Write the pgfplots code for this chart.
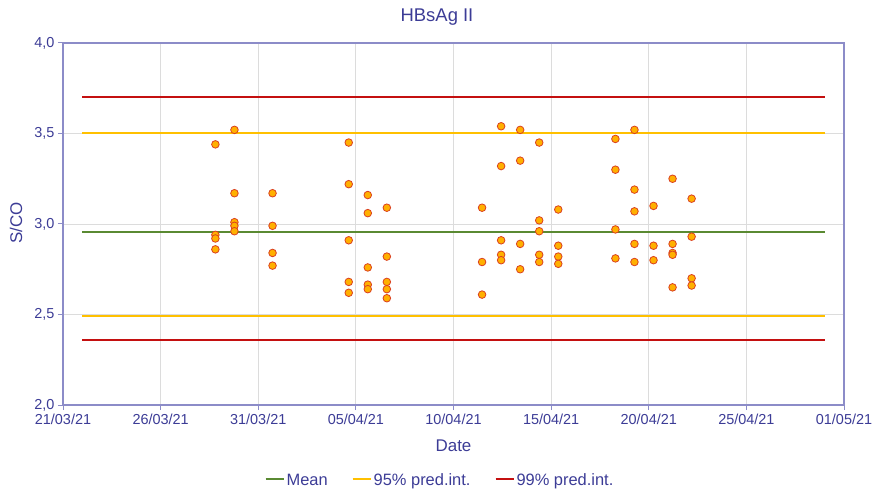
\documentclass[border=0pt]{standalone}
\usepackage{fontspec}
\setmainfont{Liberation Sans}
\usepackage{pgfplots}
\usepackage{pgfplotstable}
\pgfplotsset{compat=1.18}
\definecolor{txt}{HTML}{3C3C96}
\definecolor{axl}{HTML}{8C8CC8}
\definecolor{gridc}{HTML}{DCDCDC}
\definecolor{meanc}{HTML}{5A8A32}
\definecolor{yelc}{HTML}{FFC000}
\definecolor{redc}{HTML}{C41010}
\definecolor{mfill}{HTML}{FFB000}
\definecolor{mdraw}{HTML}{DA4020}

% day 0 = 21/03/21
\pgfplotstableread{
x y
8 3.44
8 2.94
8 2.92
8 2.86
9 3.52
9 3.17
9 3.01
9 2.99
9 2.96
11 3.17
11 2.99
11 2.84
11 2.77
15 3.45
15 3.22
15 2.91
15 2.68
15 2.62
16 3.16
16 3.06
16 2.76
16 2.665
16 2.64
17 3.09
17 2.82
17 2.68
17 2.64
17 2.59
22 3.09
22 2.79
22 2.61
23 3.54
23 3.32
23 2.91
23 2.83
23 2.80
24 3.52
24 3.35
24 2.89
24 2.75
25 3.45
25 3.02
25 2.96
25 2.83
25 2.79
26 3.08
26 2.88
26 2.82
26 2.78
29 3.47
29 3.30
29 2.97
29 2.81
30 3.52
30 3.19
30 3.07
30 2.89
30 2.79
31 3.10
31 2.88
31 2.80
32 3.25
32 2.89
32 2.84
32 2.83
32 2.65
33 3.14
33 2.93
33 2.70
33 2.66
}\pts

\begin{document}
\begin{tikzpicture}[font=\fontsize{14}{16}\selectfont]
\useasboundingbox (0,0) rectangle (878bp,489bp);
\begin{axis}[
  at={(63bp,84bp)}, anchor=south west,
  scale only axis, width=781bp, height=362bp,
  xmin=0, xmax=41, ymin=2, ymax=4,
  xtick={0,5.125,10.25,15.375,20.5,25.625,30.75,35.875,41},
  xticklabels={21/03/21,26/03/21,31/03/21,05/04/21,10/04/21,15/04/21,20/04/21,25/04/21,01/05/21},
  ytick={2,2.5,3,3.5,4},
  /pgf/number format/.cd, use comma, fixed, fixed zerofill, precision=1, assume math mode=true,
  /pgfplots/.cd,
  tick align=outside, major tick length=5bp,
  xtick pos=left, ytick pos=left,
  axis line style={axl, line width=1.3bp},
  tick style={axl, line width=1bp},
  grid=major, major grid style={gridc, line width=0.9bp},
  ticklabel style={txt, font=\fontsize{14.5}{17}\selectfont},
  xticklabel style={yshift=-1bp},
  clip=false,
  legend columns=3,
  legend style={at={(0.4827,-0.216)}, anchor=center, draw=none, fill=none,
    font=\fontsize{16.5}{19}\selectfont, text=txt,
    nodes={text depth=0.25em, text height=0.75em},
    /tikz/every even column/.append style={column sep=22bp}},
  legend image code/.code={\draw[#1] (0bp,4.5bp) -- (18bp,4.5bp);},
  legend cell align=left,
]
\addplot[meanc, line width=2bp, forget plot] coordinates {(1,2.957) (40,2.957)};
\addplot[yelc, line width=2bp, forget plot] coordinates {(1,3.503) (40,3.503)};
\addplot[yelc, line width=2bp, forget plot] coordinates {(1,2.493) (40,2.493)};
\addplot[redc, line width=2bp, forget plot] coordinates {(1,3.704) (40,3.704)};
\addplot[redc, line width=2bp, forget plot] coordinates {(1,2.361) (40,2.361)};
\addplot[only marks, mark=*, mark size=3.8bp, mark options={fill=mfill, draw=mdraw, line width=0.8bp}, forget plot] table[x=x,y=y] {\pts};
\addlegendimage{meanc, line width=2bp}\addlegendentry{Mean}
\addlegendimage{yelc, line width=2bp}\addlegendentry{95\% pred.int.}
\addlegendimage{redc, line width=2bp}\addlegendentry{99\% pred.int.}
\end{axis}
\node[txt, font=\fontsize{18.5}{21}\selectfont] at (437bp,472bp) {HBsAg II};
\node[txt, font=\fontsize{17}{19}\selectfont] at (453.5bp,43bp) {Date};
\node[txt, font=\fontsize{17}{19}\selectfont, rotate=90] at (16bp,266bp) {S/CO};
\end{tikzpicture}
\end{document}
